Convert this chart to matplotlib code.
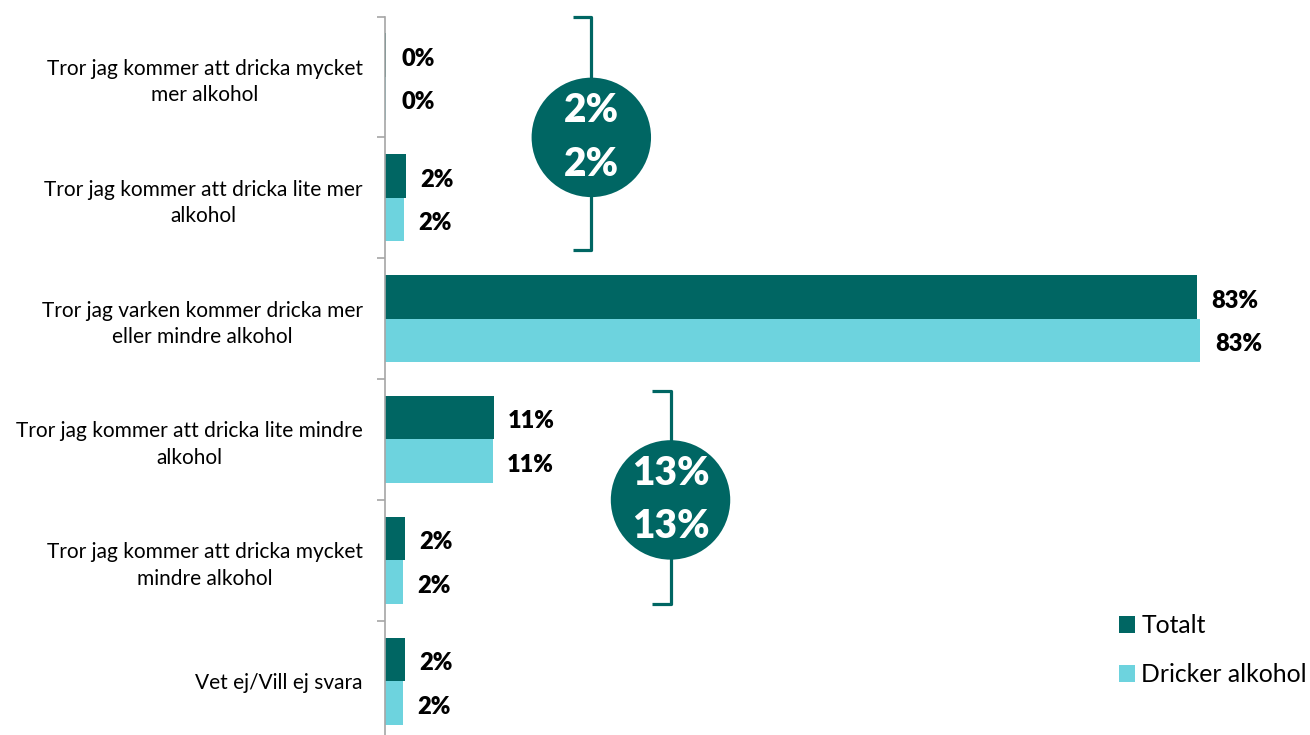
import matplotlib.pyplot as plt
import numpy as np

plt.rcParams['font.family'] = ['Lato', 'DejaVu Sans']

# categories and values (percent)
CATEGORIES = [
    "Tror jag kommer att dricka mycket\nmer alkohol",
    "Tror jag kommer att dricka lite mer\nalkohol",
    "Tror jag varken kommer dricka mer\neller mindre alkohol",
    "Tror jag kommer att dricka lite mindre\nalkohol",
    "Tror jag kommer att dricka mycket\nmindre alkohol",
    "Vet ej/Vill ej svara",
]
SERIES = ["Totalt", "Dricker alkohol"]
TOTALT = [0.15, 2.1, 83.0, 11.1, 2.0, 2.0]
DRICKER = [0.15, 1.9, 83.4, 11.0, 1.8, 1.8]
COLORS = ["#006663", "#6DD3DE"]

# groups summed into the circles: (first index, last index)
GROUPS = [(0, 1), (3, 4)]

fig = plt.figure(figsize=(13.1, 7.35), dpi=100)
ax = fig.add_axes([385 / 1310, -0.009, 1 - 385 / 1310, 0.9865])

y = np.arange(len(CATEGORIES))
h = 0.36
bars1 = ax.barh(y - h / 2, TOTALT, height=h, color=COLORS[0], label=SERIES[0])
bars2 = ax.barh(y + h / 2, DRICKER, height=h, color=COLORS[1], label=SERIES[1])

ax.set_xlim(0, 94.6)
ax.set_ylim(len(CATEGORIES) - 0.5, -0.5)

# value labels (nudged a bit down like in the original)
for vals, offs in [(TOTALT, -h / 2), (DRICKER, h / 2)]:
    for i, v in enumerate(vals):
        ax.text(v + 1.5, i + offs + 0.03, f"{round(v)}%", va="center", ha="left",
                fontsize=17, fontweight="heavy", color="black")

# axis styling
for s in ["top", "right", "bottom"]:
    ax.spines[s].set_visible(False)
ax.spines["left"].set_color("#A6A6A6")
ax.spines["left"].set_linewidth(1.2)
ax.set_xticks([])
ax.set_yticks(y)
ax.set_yticklabels(CATEGORIES, fontsize=15, linespacing=1.4, multialignment="center")
ax.tick_params(axis="y", which="major", length=0, pad=16)
ax.set_yticks(np.arange(-0.5, len(CATEGORIES), 1), minor=True)
ax.tick_params(axis="y", which="minor", length=6, width=1.2, color="#A6A6A6")

# brackets and circles with summed shares
circle_pos = [(21.1, 0.50, -0.5, 1.43), (29.2, 3.50, 2.6, 4.36)]
for (a, b), (cx, cy, top, bot) in zip(GROUPS, circle_pos):
    hook = 1.9
    ax.plot([cx - hook, cx, cx, cx - hook], [top, top, bot, bot],
            color=COLORS[0], lw=2.3, solid_joinstyle="round", solid_capstyle="butt",
            zorder=3, clip_on=False)
    ax.scatter([cx], [cy], s=86 ** 2, color=COLORS[0], zorder=4, edgecolors="none")
    s1 = round(sum(TOTALT[a:b + 1]))
    s2 = round(sum(DRICKER[a:b + 1]))
    ax.text(cx, cy, f"{s1}%\n{s2}%", ha="center", va="center", color="white",
            fontsize=28, fontweight="heavy", linespacing=1.55, zorder=5)

ax.legend(handles=[bars1, bars2], loc="upper left",
          bbox_to_anchor=(1119 / 1310, 1 - 614 / 735), bbox_transform=fig.transFigure,
          frameon=False, fontsize=17.8, handlelength=0.66, handleheight=0.66,
          handletextpad=0.25, labelspacing=1.05, borderaxespad=0, borderpad=0)

fig.savefig("out.png", dpi=100)
